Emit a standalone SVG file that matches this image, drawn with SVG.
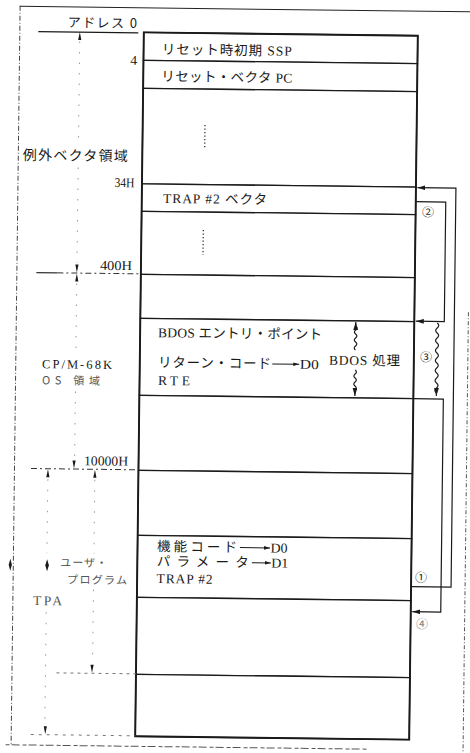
<svg xmlns="http://www.w3.org/2000/svg" width="470" height="753" viewBox="0 0 470 753">
<style>
.t{font-family:"Liberation Serif","Noto Sans CJK JP",serif;font-size:13.5px;fill:#1a1a1a}
.j{font-family:"Noto Sans CJK JP","Liberation Serif",sans-serif;font-size:13px;fill:#1a1a1a}
.faint{fill:#555}
.row{fill:#fff;stroke:#1a1a1a;stroke-width:1.3}
.dash{fill:none;stroke:#333;stroke-width:1;stroke-dasharray:6 3 2 3}
.dot{fill:none;stroke:#999;stroke-width:1;stroke-dasharray:1.5 9}
.vd{fill:none;stroke:#222;stroke-width:1.2;stroke-dasharray:1.2 2.3}
.con{fill:none;stroke:#1a1a1a;stroke-width:1.2}
.ah{fill:#1a1a1a}
.c{font-family:"Noto Sans CJK JP","DejaVu Sans",sans-serif;font-size:12px;fill:#1a1a1a;text-anchor:middle}
</style>
<defs>
<marker id="arr" viewBox="0 0 10 6" refX="10" refY="3" markerWidth="8" markerHeight="5" orient="auto-start-reverse" markerUnits="userSpaceOnUse"><path d="M0,0 L10,3 L0,6 z" fill="#1a1a1a"/></marker>
<marker id="arr2" viewBox="0 0 10 6" refX="10" refY="3" markerWidth="6" markerHeight="4" orient="auto" markerUnits="userSpaceOnUse"><path d="M0,0 L10,3 L0,6 z" fill="#1a1a1a"/></marker>
</defs>
<rect x="0" y="0" width="470" height="753" fill="#fff"/>
<g transform="rotate(0.7 276 386)">
<g id="frame">
<line x1="15" y1="9.5" x2="472" y2="9.5" stroke="#222" stroke-width="1"/>
<line x1="15.5" y1="9" x2="15.5" y2="748" stroke="#444" stroke-width="1" stroke-dasharray="5 2 1 2"/>
<line x1="10" y1="748" x2="372" y2="748" stroke="#555" stroke-width="1" stroke-dasharray="4 2 8 3"/>
<line x1="467.5" y1="310" x2="467.5" y2="752" stroke="#555" stroke-width="1" stroke-dasharray="4 2 1 2"/>
</g>
<g id="row-ssp"><rect class="row" x="139.5" y="34" width="274" height="28"/>
<text class="t" x="157.8" y="55.5" textLength="130" lengthAdjust="spacing">リセット時初期 SSP</text></g>
<g id="row-pc"><rect class="row" x="139.5" y="62" width="274" height="28"/>
<text class="t" x="157.6" y="82.5" textLength="131" lengthAdjust="spacing">リセット・ベクタ PC</text></g>
<g id="row-vec1"><rect class="row" x="139.5" y="90" width="274" height="95.5"/>
<line class="vd" x1="201.8" y1="126" x2="201.8" y2="149"/></g>
<g id="row-trapvec"><rect class="row" x="139.5" y="185.5" width="274" height="27.5"/>
<text class="t" x="160.7" y="204.4" textLength="104" lengthAdjust="spacing">TRAP #2 ベクタ</text></g>
<g id="row-vec2"><rect class="row" x="139.5" y="213" width="274" height="63"/>
<line class="vd" x1="201.4" y1="231" x2="201.4" y2="256"/></g>
<g id="row-os1"><rect class="row" x="139.5" y="276" width="274" height="44"/></g>
<g id="row-bdos"><rect class="row" x="139.5" y="320" width="274" height="77"/>
<text class="t" x="157.4" y="338.6" textLength="164" lengthAdjust="spacing">BDOS エントリ・ポイント</text>
<text class="t" x="157.7" y="368.5" textLength="113" lengthAdjust="spacing">リターン・コード</text>
<line x1="272" y1="364" x2="299" y2="364" stroke="#1a1a1a" stroke-width="1" marker-end="url(#arr2)"/>
<text class="t" x="299.5" y="368.5" textLength="19" lengthAdjust="spacingAndGlyphs">D0</text>
<text class="t" x="158" y="386.5" textLength="32" lengthAdjust="spacing">RTE</text>
<text class="t" x="328.7" y="364" textLength="71" lengthAdjust="spacing">BDOS 処理</text>
<path class="con" d="M355,321 v4 q2.5,2 0,4 q-2.5,2 0,4 q2.5,2 0,4 q-2.5,2 0,4 q2.5,2 0,4 q-2.5,2 0,4" marker-start="url(#arr)"/>
<path class="con" d="M355,369 q2.5,2 0,4 q-2.5,2 0,4 q2.5,2 0,4 q-2.5,2 0,4 q2.5,2 0,4 v6" marker-end="url(#arr)"/>
</g>
<g id="row-os2"><rect class="row" x="139.5" y="397" width="274" height="75"/></g>
<g id="row-tpa1"><rect class="row" x="139.5" y="472" width="274" height="65"/></g>
<g id="row-user"><rect class="row" x="139.5" y="537" width="274" height="62"/>
<text class="t" x="159" y="552.5" textLength="80" lengthAdjust="spacing">機能コード</text>
<line x1="242" y1="548" x2="272" y2="548" stroke="#1a1a1a" stroke-width="1" marker-end="url(#arr2)"/>
<text class="t" x="272.5" y="552.5" textLength="17" lengthAdjust="spacingAndGlyphs">D0</text>
<text class="t" x="159" y="567.5" textLength="92" lengthAdjust="spacing">パラメータ</text>
<line x1="254" y1="563" x2="273" y2="563" stroke="#1a1a1a" stroke-width="1" marker-end="url(#arr2)"/>
<text class="t" x="273.5" y="567.5" textLength="17" lengthAdjust="spacingAndGlyphs">D1</text>
<text class="t" x="159" y="584.5" textLength="56" lengthAdjust="spacing">TRAP #2</text></g>
<g id="row-tpa2"><rect class="row" x="139.5" y="599" width="274" height="77"/></g>
<g id="row-tpa3"><rect class="row" x="139.5" y="676" width="274" height="62"/></g>
<rect x="139.5" y="34" width="274" height="704" fill="none" stroke="#1a1a1a" stroke-width="1.9"/>
<g id="addr0"><text class="j" x="63.5" y="29.7" textLength="69" lengthAdjust="spacing">アドレス 0</text>
<line x1="34" y1="34.5" x2="134" y2="34.5" stroke="#1a1a1a" stroke-width="1.2"/></g>
<g id="addr4"><text class="t" x="133" y="66.5" text-anchor="end">4</text></g>
<g id="addr34"><text class="t" x="112" y="189" textLength="20" lengthAdjust="spacingAndGlyphs">34H</text></g>
<g id="addr400"><text class="t" x="98.5" y="272" textLength="32" lengthAdjust="spacingAndGlyphs">400H</text>
<line x1="35" y1="275.5" x2="56" y2="275.5" stroke="#333" stroke-width="1.2"/>
<line class="dash" x1="56" y1="275.5" x2="139.5" y2="275.5"/></g>
<g id="addr10000"><text class="t" x="85" y="467.5" textLength="44" lengthAdjust="spacingAndGlyphs">10000H</text>
<line class="dash" x1="32" y1="471.5" x2="139.5" y2="471.5"/></g>
<g id="line676"><line x1="60" y1="675.5" x2="139.5" y2="675.5" stroke="#777" stroke-width="1" stroke-dasharray="3 4"/></g>
<g id="line738"><line x1="35" y1="737.5" x2="139.5" y2="737.5" stroke="#777" stroke-width="1" stroke-dasharray="3 5"/></g>
<g id="region-exc"><text class="j" x="20" y="163" textLength="105" lengthAdjust="spacing" style="font-size:14px">例外ベクタ領域</text></g>
<g id="region-os"><text class="t" x="41.8" y="371" textLength="70" lengthAdjust="spacing" style="font-size:12.5px">CP/M-68K</text>
<text class="j faint" x="42" y="387" textLength="58" lengthAdjust="spacing" style="font-size:11px">OS 領域</text></g>
<g id="region-user"><text class="j faint" x="62.3" y="569" textLength="47" lengthAdjust="spacing" style="font-size:11px">ユーザ・</text>
<text class="j faint" x="69.5" y="586" textLength="60" lengthAdjust="spacing" style="font-size:11px">プログラム</text></g>
<g id="region-tpa"><text class="t faint" x="35.8" y="608" textLength="29" lengthAdjust="spacing">TPA</text></g>
<g id="dims">
<line class="dot" x1="75.5" y1="44" x2="75.5" y2="146"/>
<line class="dot" x1="75.5" y1="170" x2="75.5" y2="265"/>
<line class="dot" x1="75.5" y1="286" x2="75.5" y2="354"/>
<line class="dot" x1="75.5" y1="394" x2="75.5" y2="461"/>
<line class="dot" x1="96" y1="482" x2="96" y2="556"/>
<line class="dot" x1="96" y1="592" x2="96" y2="664"/>
<line class="dot" x1="49" y1="482" x2="49" y2="556"/>
<line class="dot" x1="49" y1="615" x2="49" y2="726"/>
<path class="ah" d="M75.5,34.5 l1.6,8 h-3.2 z"/>
<path class="ah" d="M75.5,275 l1.6,-8 h-3.2 z"/>
<path class="ah" d="M75.5,276 l1.6,8 h-3.2 z"/>
<path class="ah" d="M75,471 l1.6,-8 h-3.2 z"/>
<path class="ah" d="M49,472 l1.6,8 h-3.2 z"/>
<path class="ah" d="M96,472 l1.6,8 h-3.2 z"/>
<path class="ah" d="M95.5,675 l1.6,-8 h-3.2 z"/>
<path class="ah" d="M49.5,737 l1.6,-8 h-3.2 z"/>
<path class="ah" d="M49.3,562 l1.8,6 l-1.8,6 l-1.8,-6 z"/>
<path class="ah" d="M12.5,562 l1.6,6 l-1.6,6 l-1.6,-6 z"/>
</g>
</g>
<g id="connectors" transform="rotate(0.7 276 386)">
<path class="con" d="M414,585 H453.5 V186 H415" marker-end="url(#arr)"/>
<path class="con" d="M414,200 H443.5 V319.5 H415" marker-end="url(#arr)"/>
<path class="con" d="M436.5,321 q3,2.5 0,5 q-3,2.5 0,5 q3,2.5 0,5 q-3,2.5 0,5 q3,2.5 0,5 q-3,2.5 0,5 q3,2.5 0,5 q-3,2.5 0,5 q3,2.5 0,5 q-3,2.5 0,5 q3,2.5 0,5 q-3,2.5 0,5 q3,2.5 0,5 q-3,2.5 0,5 v3" marker-end="url(#arr)"/>
<path class="con" d="M414,397 H443.5 V610 H415" marker-end="url(#arr)"/>
<text class="c" x="426" y="214.5">②</text>
<text class="c" x="425.6" y="359.5">③</text>
<text class="c" x="423.5" y="580">①</text>
<text class="c" x="425" y="626.5" style="fill:#777">④</text>
</g>
</svg>
